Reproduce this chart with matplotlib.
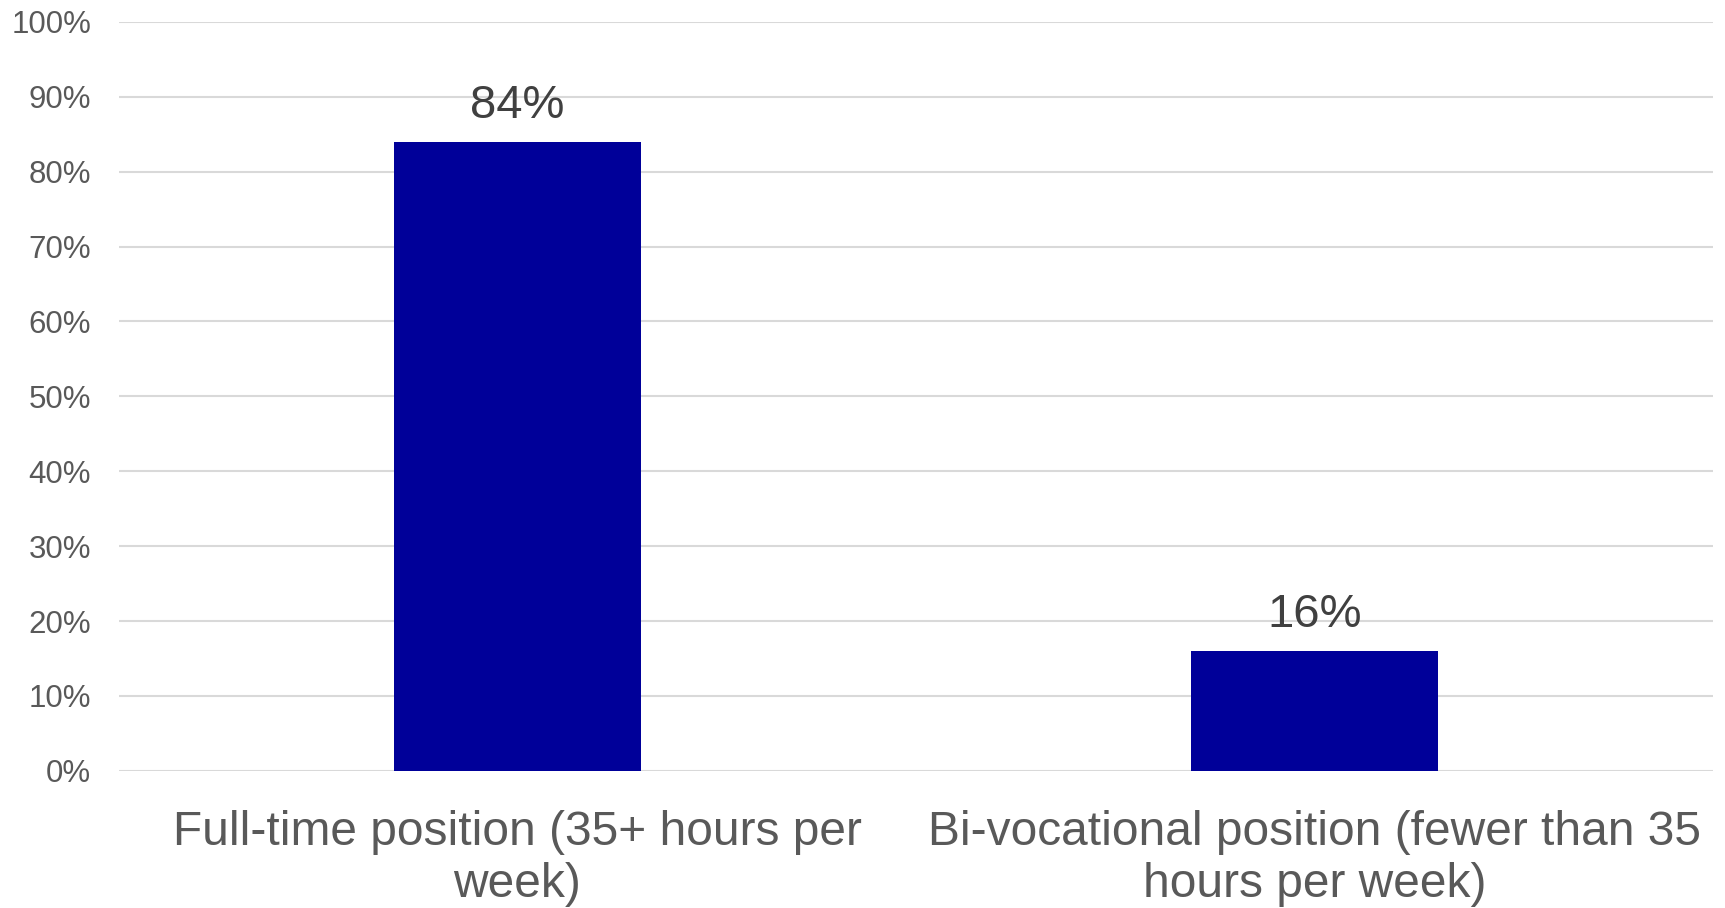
import matplotlib.pyplot as plt
import numpy as np

# Data: share of positions by type
categories = ['Full-time position (35+ hours per\nweek)',
              'Bi-vocational position (fewer than 35\nhours per week)']
shares = [84, 16]
yticks = [0, 10, 20, 30, 40, 50, 60, 70, 80, 90, 100]

plt.rcParams['font.family'] = ['Liberation Sans', 'DejaVu Sans']

fig = plt.figure(figsize=(17.25, 9.08), dpi=100)
ax = fig.add_axes([0.069, 0.151, 0.924, 0.825])

x = np.arange(len(categories))
bars = ax.bar(x, shares, width=0.31, color='#000099', zorder=3)

# value labels above the bars
for b, v in zip(bars, shares):
    ax.annotate(f'{v}%', (b.get_x() + b.get_width() / 2, b.get_height()),
                xytext=(0, 10), textcoords='offset points',
                ha='center', va='bottom', fontsize=34, color='#404040')

ax.set_xlim(-0.5, len(categories) - 0.5)
ax.set_ylim(0, 100)
ax.set_yticks(yticks)
ax.set_yticklabels([f'{t}%' for t in yticks], fontsize=22.5, color='#595959')
ax.set_xticks(x)
ax.set_xticklabels(categories, fontsize=34.5, color='#595959', linespacing=1.22)
ax.tick_params(axis='both', length=0)
ax.tick_params(axis='x', pad=28)
ax.tick_params(axis='y', pad=20)

ax.grid(axis='y', color='#d9d9d9', linewidth=1.5, zorder=0)
for s in ax.spines.values():
    s.set_visible(False)

fig.savefig('out.png', dpi=100)
